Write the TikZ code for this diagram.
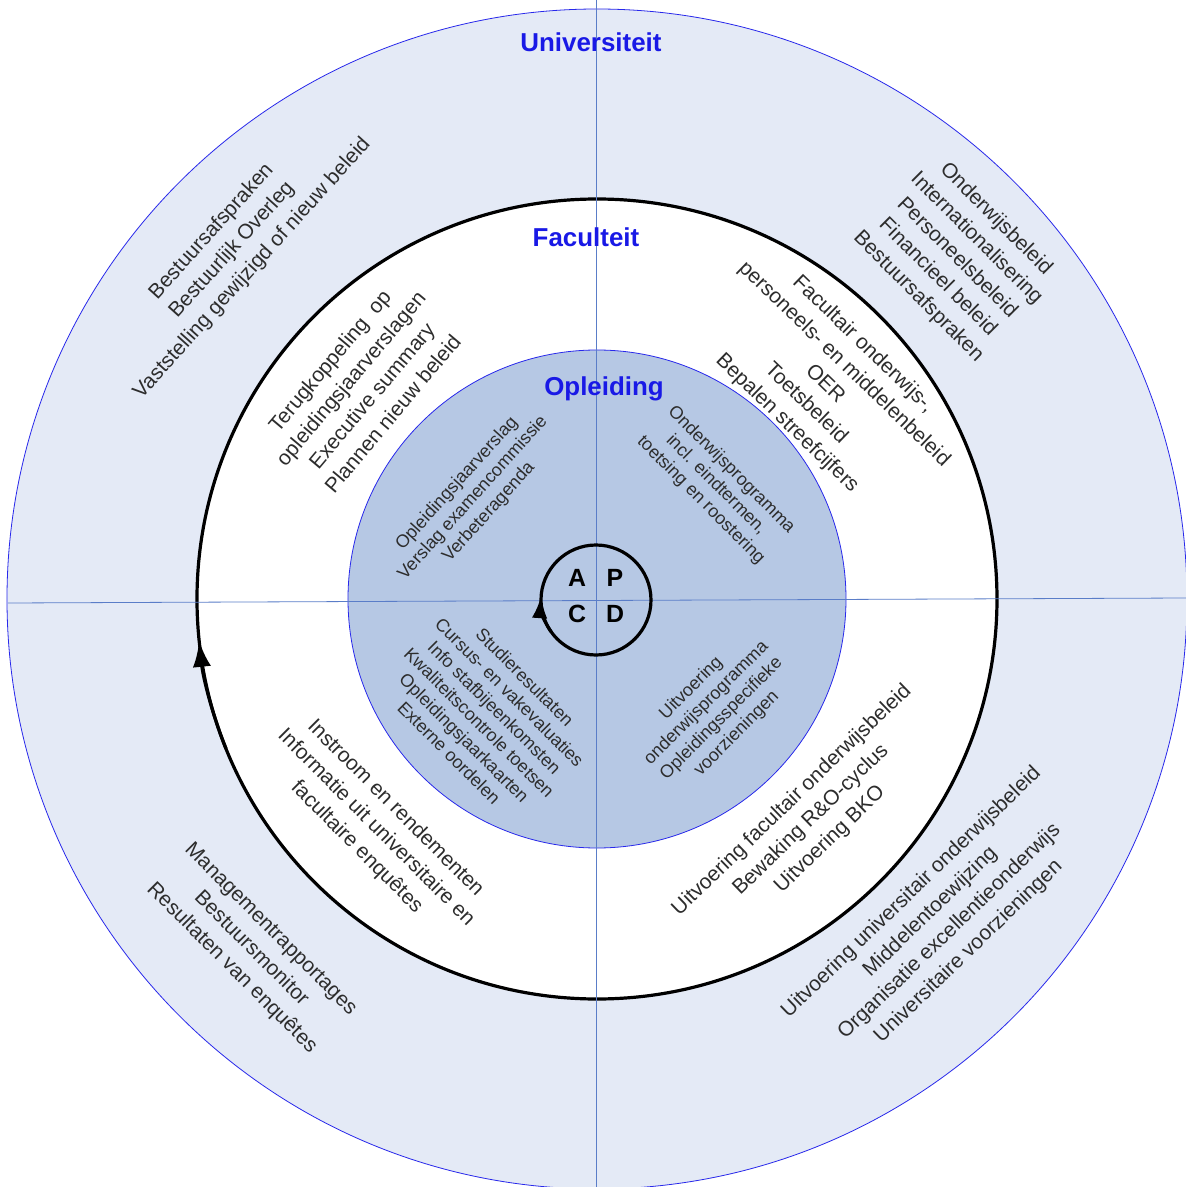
\documentclass[tikz,border=0pt]{standalone}
\usepackage{fontspec}
\setmainfont{Liberation Sans}
\usetikzlibrary{arrows.meta}
\definecolor{unifill}{RGB}{228,234,246}
\definecolor{oplfill}{RGB}{182,200,228}
\definecolor{ringblue}{RGB}{40,40,235}
\definecolor{crossblue}{RGB}{90,125,200}
\definecolor{titleblue}{RGB}{25,25,230}
\definecolor{txtgray}{RGB}{45,45,45}
\begin{document}
\begin{tikzpicture}[
			x=1bp, y=1bp,
			ring/.style = {draw=ringblue, line width=0.8bp},
			cycleline/.style = {draw=black, line width=3.2bp},
			crossline/.style = {draw=crossblue, line width=0.8bp},
			levellabel/.style = {text=titleblue, font=\fontsize{26}{30}\selectfont\bfseries},
			outertext/.style = {text=txtgray, align=center, font=\fontsize{21}{27.5}\selectfont},
			innertext/.style = {text=txtgray, align=center, font=\fontsize{18}{21.5}\selectfont},
			pdcaletter/.style = {font=\fontsize{25}{30}\selectfont\bfseries},
			tipmark/.style = {-{Latex[length=#1, width=0.7*#1]}},
			]
			\useasboundingbox (-597,-588) rectangle (589,599);
			\fill[white] (-597,-588) rectangle (589,599);
			\path[ring, fill=unifill] (0,0) circle[radius=590];
			\path[cycleline, fill=white] (0,0) circle[radius=400];
			\path[ring, fill=oplfill] (0,0) circle[radius=249];
			\draw[crossline] (-589,-4) -- (589,1);
			\draw[crossline] (-1,599) -- (-1,-588);
			\draw[cycleline, tipmark=26bp] (202:400) arc[start angle=202, end angle=186, radius=400];
			\draw[cycleline] (-1,-1) circle[radius=55];
			\draw[cycleline, tipmark=22bp] ([shift={(-1,-1)}]215:55) arc[start angle=215, end angle=176, radius=55];
			\node[levellabel] (uni) at (-6,557) {Universiteit};
			\node[levellabel] (fac) at (-11,362) {Faculteit};
			\node[levellabel] (opl) at (7,210) {Opleiding};
			\node[pdcaletter] (act) at (-20,21) {A};
			\node[pdcaletter] (plan) at (18,21) {P};
			\node[pdcaletter] (check) at (-20,-15) {C};
			\node[pdcaletter] (do) at (18,-15) {D};
			\node[outertext, rotate=48] (uniTL) at (-365,349) {Bestuursafspraken\\Bestuurlijk Overleg\\Vaststelling gewijzigd of nieuw beleid};
			\node[outertext, rotate=-45] (uniTR) at (360,341) {Onderwijsbeleid\\Internationalisering\\Personeelsbeleid\\Financieel beleid\\Bestuursafspraken};
			\node[outertext, rotate=50] (facTL) at (-236,212) {Terugkoppeling\ \ op\\opleidingsjaarverslagen\\Executive summary\\Plannen nieuw beleid};
			\node[outertext, rotate=-44] (facTR) at (228,215) {Facultair onderwijs-,\\personeels- en middelenbeleid\\OER\\Toetsbeleid\\Bepalen streefcijfers};
			\node[innertext, rotate=48] (oplTL) at (-124,101) {Opleidingsjaarverslag\\Verslag examencommissie\\Verbeteragenda};
			\node[innertext, rotate=-45] (oplTR) at (119,114) {Onderwijsprogramma\\incl. eindtermen,\\toetsing en roostering};
			\node[innertext, rotate=-45] (oplBL) at (-110,-116) {Studieresultaten\\Cursus- en vakevaluaties\\Info stafbijeenkomsten\\Kwaliteitscontrole toetsen\\Opleidingsjaarkaarten\\Externe oordelen};
			\node[innertext, rotate=45] (oplBR) at (117,-112) {Uitvoering\\onderwijsprogramma\\Opleidingsspecifieke\\voorzieningen};
			\node[outertext, rotate=-45] (facBL) at (-221,-229) {Instroom en rendementen\\Informatie uit universitaire en\\facultaire enquêtes};
			\node[outertext, rotate=44] (facBR) at (214,-221) {Uitvoering facultair onderwijsbeleid\\Bewaking R\&O-cyclus\\Uitvoering BKO};
			\node[outertext, rotate=-45] (uniBL) at (-346,-350) {Managementrapportages\\Bestuursmonitor\\Resultaten van enquêtes};
			\node[outertext, rotate=44] (uniBR) at (343,-323) {Uitvoering universitair onderwijsbeleid\\Middelentoewijzing\\Organisatie excellentieonderwijs\\Universitaire voorzieningen};
		\end{tikzpicture}
\end{document}
